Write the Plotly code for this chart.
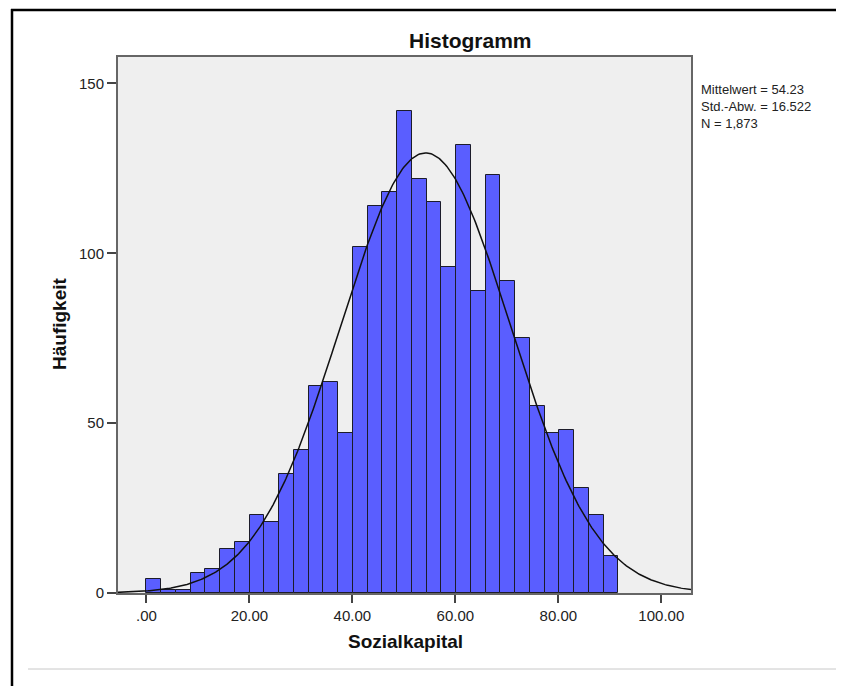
import numpy as np
import plotly.graph_objects as go

# ---- data ----
counts = [4, 1, 1, 6, 7, 13, 15, 23, 21, 35, 42, 61, 62, 47, 102, 114,
          118, 142, 122, 115, 96, 132, 89, 123, 92, 75, 55, 47, 48, 31, 23, 11]
bin_start = 0.0
bin_width = 2.8646
mean_val = 54.23
sd_val = 16.522
n_val = 1873
x_tick_vals = [0, 20, 40, 60, 80, 100]
x_tick_text = [".00", "20.00", "40.00", "60.00", "80.00", "100.00"]
y_tick_vals = [0, 50, 100, 150]
stats_lines = ["Mittelwert = 54.23", "Std.-Abw. = 16.522", "N = 1,873"]

# ---- derived ----
centers = [bin_start + bin_width * (i + 0.5) for i in range(len(counts))]
x_range = [-5.52, 105.77]
y_range = [0, 157.8]
xc = np.linspace(x_range[0], x_range[1], 400)
yc = n_val * bin_width * np.exp(-0.5 * ((xc - mean_val) / sd_val) ** 2) / (sd_val * np.sqrt(2 * np.pi))

FONT = "Liberation Sans, Arial, sans-serif"
OFF = 8  # page body margin of the browser
W, H = 844 - OFF, 686 - OFF
L, R, T, B = 118 - OFF, 691 - OFF, 57 - OFF, 593 - OFF  # plot-area pixel box (figure coords)

def px(x):
    return (x - OFF - L) / (R - L)

def py(y):
    return (B - (y - OFF)) / (B - T)

fig = go.Figure()
fig.add_trace(go.Bar(
    x=centers, y=counts, width=bin_width,
    marker=dict(color="#5a5eff", line=dict(color="#1c1c2a", width=1)),
    hoverinfo="x+y", showlegend=False,
))
fig.add_trace(go.Scatter(
    x=xc, y=yc, mode="lines", line=dict(color="#111111", width=1.5),
    hoverinfo="skip", showlegend=False,
))

fig.update_layout(
    width=W, height=H,
    margin=dict(l=L, r=W - R, t=T, b=H - B, pad=0),
    paper_bgcolor="white", plot_bgcolor="#efefef",
    font=dict(family=FONT, size=15, color="#222222"),
    bargap=0,
    xaxis=dict(range=x_range, tickvals=x_tick_vals, ticktext=x_tick_text,
               ticks="outside", ticklen=8, tickwidth=1.5, tickcolor="#444444",
               showline=True, linecolor="#666666", linewidth=2, mirror=True,
               showgrid=False, zeroline=False, tickfont=dict(size=15)),
    yaxis=dict(range=y_range, tickvals=y_tick_vals,
               ticks="outside", ticklen=9, tickwidth=1.5, tickcolor="#444444",
               showline=True, linecolor="#666666", linewidth=2, mirror=True,
               showgrid=False, zeroline=False, tickfont=dict(size=15)),
)

ann = [
    dict(text="<b>Histogramm</b>", x=px(470), y=py(40), font=dict(size=21, color="#111111"),
         xanchor="center", yanchor="middle"),
    dict(text="<b>Sozialkapital</b>", x=px(405), y=py(641), font=dict(size=19, color="#111111"),
         xanchor="center", yanchor="middle"),
    dict(text="<b>Häufigkeit</b>", x=px(59), y=py(324), font=dict(size=19, color="#111111"),
         xanchor="center", yanchor="middle", textangle=-90),
    dict(text="<br>".join(stats_lines), x=px(700), y=py(81), font=dict(size=13, color="#222222"),
         xanchor="left", yanchor="top", align="left", borderpad=0),
]
for a in ann:
    a.update(xref="paper", yref="paper", showarrow=False)
fig.update_layout(annotations=ann)

shapes = [
    # outer frame: top and left black lines
    dict(type="line", x0=px(11), x1=px(850), y0=py(10), y1=py(10), line=dict(color="black", width=2.5)),
    dict(type="line", x0=px(12), x1=px(12), y0=py(9), y1=py(690), line=dict(color="black", width=2.5)),
    # light grey separator near the bottom
    dict(type="line", x0=px(28), x1=px(850), y0=py(669), y1=py(669), line=dict(color="#c8c8c8", width=1)),
]
for s in shapes:
    s.update(xref="paper", yref="paper", layer="above")
fig.update_layout(shapes=shapes)

fig.write_html("out.html")
